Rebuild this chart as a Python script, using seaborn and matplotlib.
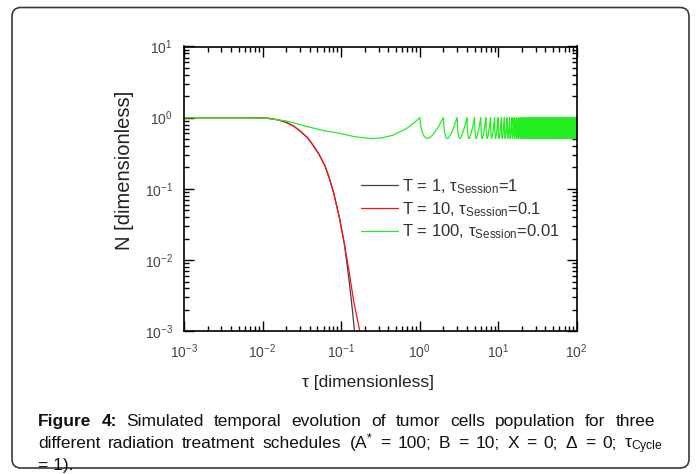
import numpy as np
import pandas as pd
import matplotlib
matplotlib.use("Agg")
import matplotlib.pyplot as plt
import matplotlib.ticker as mticker
import matplotlib.transforms as mtransforms
from matplotlib.patches import FancyBboxPatch
import seaborn as sns

# Datos
# T = 1, tau_session = 1 (negra)
tau_black = [0.001, 0.008, 0.012, 0.016, 0.02, 0.025, 0.03, 0.037, 0.044, 0.052, 0.0625, 0.071,
             0.08, 0.095, 0.11, 0.125, 0.14, 0.148, 0.156]
n_black = [1.0, 1.0, 0.98, 0.93, 0.86, 0.76, 0.65, 0.53, 0.41, 0.31, 0.21, 0.14,
           0.09, 0.04, 0.017, 0.0058, 0.0019, 0.001, 0.0006]

# T = 10, tau_session = 0.1 (roja)
tau_red = [0.001, 0.008, 0.012, 0.016, 0.02, 0.025, 0.03, 0.037, 0.044, 0.052, 0.0625, 0.071,
           0.08, 0.095, 0.11, 0.125, 0.145, 0.165, 0.18]
n_red = [1.0, 1.0, 0.98, 0.93, 0.86, 0.76, 0.65, 0.53, 0.41, 0.31, 0.21, 0.14,
         0.09, 0.04, 0.017, 0.0075, 0.0026, 0.0013, 0.0008]

# T = 100, tau_session = 0.01 (verde): forma de un ciclo, se repite cada tau_Cycle = 1
tau_cycle = [0.001, 0.005, 0.01, 0.014, 0.02, 0.037, 0.06, 0.098, 0.15, 0.236, 0.33, 0.46, 0.69, 0.85]
n_cycle = [1.0, 1.0, 0.99, 0.95, 0.90, 0.75, 0.66, 0.60, 0.54, 0.51, 0.52, 0.57, 0.71, 0.85]
cycle_starts = list(range(0, 100))

labels = [r"T = 1, τ$_{\mathrm{Session}}$=1",
          r"T = 10, τ$_{\mathrm{Session}}$=0.1",
          r"T = 100, τ$_{\mathrm{Session}}$=0.01"]
colors = ["#404040", "#ff1010", "#22ee22"]

tau_green = [k + t for k in cycle_starts for t in tau_cycle] + [100.0]
n_green = [n for k in cycle_starts for n in n_cycle] + [1.0]

df = pd.concat([
    pd.DataFrame({"tau": tau_black, "N": n_black, "serie": labels[0]}),
    pd.DataFrame({"tau": tau_red, "N": n_red, "serie": labels[1]}),
    pd.DataFrame({"tau": tau_green, "N": n_green, "serie": labels[2]}),
])

sns.set_style("ticks")
plt.rcParams['font.family'] = ['Liberation Sans', 'DejaVu Sans']
plt.rcParams['mathtext.fontset'] = 'custom'
plt.rcParams['mathtext.rm'] = 'Liberation Sans'
plt.rcParams['mathtext.it'] = 'Liberation Sans:italic'
plt.rcParams['mathtext.bf'] = 'Liberation Sans:bold'

W, H = 697, 474
fig = plt.figure(figsize=(W / 100, H / 100), dpi=100)
ax = fig.add_axes([184 / W, 1 - 331.3 / H, (576.7 - 184) / W, (331.3 - 46.5) / H])

for lab, col in zip(labels, colors):
    sub = df[df["serie"] == lab]
    sns.lineplot(data=sub, x="tau", y="N", ax=ax, color=col, linewidth=0.9,
                 sort=False, estimator=None, label=lab)

ax.set_xscale("log")
ax.set_yscale("log")
ax.set_xlim(1e-3, 1e2)
ax.set_ylim(1e-3, 1e1)
ax.xaxis.set_major_locator(mticker.LogLocator(base=10, numticks=10))
ax.yaxis.set_major_locator(mticker.LogLocator(base=10, numticks=10))
ax.xaxis.set_minor_locator(mticker.LogLocator(base=10, subs=np.arange(2, 10), numticks=20))
ax.yaxis.set_minor_locator(mticker.LogLocator(base=10, subs=np.arange(2, 10), numticks=20))
ax.xaxis.set_minor_formatter(mticker.NullFormatter())
ax.yaxis.set_minor_formatter(mticker.NullFormatter())
ax.tick_params(which="both", direction="in", top=True, right=True, width=1.0,
               colors="black", labelcolor="#454545", labelsize=10)
ax.tick_params(which="major", length=7, pad=8)
ax.tick_params(which="minor", length=3.5)
for s in ax.spines.values():
    s.set_linewidth(1.2)
    s.set_color("black")

ax.set_xlabel("")
ax.set_ylabel("")
fig.text(368 / W, 1 - 382 / H, "τ [dimensionless]", fontsize=12.5, color="#222222",
         ha="center", va="center")
fig.text(125 / W, 1 - 170 / H, "N [dimensionless]", fontsize=14.5, color="#222222",
         ha="center", va="center", rotation=90)

leg = ax.legend(loc="upper left", bbox_to_anchor=(361 / W, 1 - 177 / H),
                bbox_transform=fig.transFigure, frameon=False, borderpad=0,
                borderaxespad=0, handlelength=2.2, handletextpad=0.25,
                labelspacing=0.25, fontsize=12)
for t in leg.get_texts():
    t.set_color("#333333")

# Marco redondeado
frame = FancyBboxPatch((12, 6), 677, 460.5, boxstyle="round,pad=0,rounding_size=9",
                       transform=mtransforms.IdentityTransform(), facecolor="none",
                       edgecolor="#3a3a3a", linewidth=1.2)
fig.add_artist(frame)

# Pie de figura justificado
line1 = [("Figure", "bold"), ("4:", "bold"), ("Simulated", "normal"), ("temporal", "normal"),
         ("evolution", "normal"), ("of", "normal"), ("tumor", "normal"), ("cells", "normal"),
         ("population", "normal"), ("for", "normal"), ("three", "normal")]
line2 = ["different", "radiation", "treatment", "schedules", r"(A$^{*}$", "=", "100;", "B", "=",
         "10;", "X", "=", "0;", "Δ", "=", "0;", r"τ$_{\mathrm{Cycle}}$"]
line2 = [(w, "normal") for w in line2]

fig.canvas.draw()
renderer = fig.canvas.get_renderer()


def justificar(words, y, x0, x1, size=12.5):
    objs = [fig.text(0, y, w, fontsize=size, fontweight=fw, color="#111111", va="baseline",
                     transform=mtransforms.IdentityTransform()) for w, fw in words]
    widths = [o.get_window_extent(renderer).width for o in objs]
    gap = (x1 - x0 - sum(widths)) / (len(objs) - 1)
    x = x0
    for o, w in zip(objs, widths):
        o.set_x(x)
        x += w + gap


justificar(line1, H - 425.7, 38, 655)
justificar(line2, H - 448, 38, 663)
fig.text(38, H - 470, "= 1).", fontsize=12.5, color="#111111", va="baseline",
         transform=mtransforms.IdentityTransform())

fig.savefig("out.png", dpi=100)
